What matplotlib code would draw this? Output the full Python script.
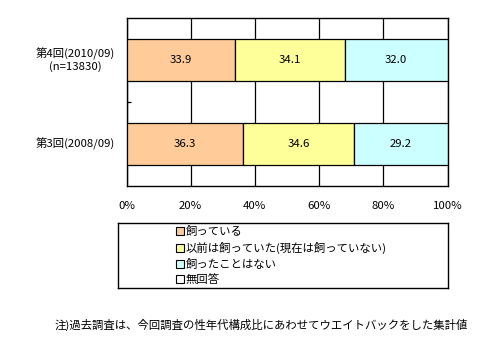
import matplotlib
matplotlib.use('Agg')
import matplotlib.pyplot as plt
from matplotlib.patches import Patch

plt.rcParams['font.family'] = ['Noto Sans CJK JP', 'DejaVu Sans']

# survey rounds (top to bottom) and answer shares in %
rounds = ['第4回(2010/09)\n(n=13830)', '第3回(2008/09)']
answers = ['飼っている', '以前は飼っていた(現在は飼っていない)', '飼ったことはない', '無回答']
owning = [33.9, 36.3]
owned_before = [34.1, 34.6]
never_owned = [32.0, 29.2]
no_answer = [0.0, 0.0]
x_ticks = [0, 20, 40, 60, 80, 100]
x_tick_labels = ['0%', '20%', '40%', '60%', '80%', '100%']
note = '注)過去調査は、今回調査の性年代構成比にあわせてウエイトバックをした集計値'

colors = ['#FFCC99', '#FFFF99', '#CCFFFF', '#FFFFFF']
FS = 8.2


def draw_bars(ax):
    series = [owning, owned_before, never_owned, no_answer]
    ypos = list(range(len(rounds)))
    left = [0.0] * len(rounds)
    for vals, col in zip(series, colors):
        bars = ax.barh(ypos, vals, left=left, height=0.49, color=col,
                       edgecolor='black', linewidth=0.9, zorder=3)
        for b, v in zip(bars, vals):
            if v > 0:
                ax.text(b.get_x() + b.get_width() / 2, b.get_y() + b.get_height() / 2,
                        f'{v:.1f}', ha='center', va='center', fontsize=FS, zorder=4)
        left = [l + v for l, v in zip(left, vals)]

    ax.set_xlim(0, 100)
    ax.set_ylim(len(rounds) - 0.5, -0.5)
    ax.set_xticks(x_ticks)
    ax.set_xticklabels(x_tick_labels, fontsize=FS)
    ax.tick_params(axis='x', length=0, pad=11)
    ax.xaxis.grid(True, color='black', linewidth=0.9)
    ax.set_axisbelow(True)

    # category labels placed by hand, tick marks only between rows
    ax.set_yticks([i + 0.5 for i in range(len(rounds) - 1)])
    ax.set_yticklabels([])
    ax.tick_params(axis='y', direction='in', length=3, width=0.9)
    for i, lab in enumerate(rounds):
        ax.text(-3.5, i, lab, ha='right', va='center', fontsize=FS,
                multialignment='center', transform=ax.transData)
    for s in ax.spines.values():
        s.set_linewidth(1.0)


def draw_legend(fig):
    lax = fig.add_axes([118 / 478, 1 - 288 / 342, 330 / 478, 65 / 342])
    lax.set_xticks([])
    lax.set_yticks([])
    for s in lax.spines.values():
        s.set_linewidth(1.0)
    handles = [Patch(facecolor=c, edgecolor='black', linewidth=0.8) for c in colors]
    lax.legend(handles, answers, loc='center left', bbox_to_anchor=(0.175, 0.5),
               frameon=False, fontsize=FS, handlelength=0.7, handleheight=0.7,
               handletextpad=0.2, labelspacing=0.42, borderaxespad=0, borderpad=0)


def main():
    fig = plt.figure(figsize=(4.78, 3.42), dpi=100)
    ax = fig.add_axes([126.5 / 478, 1 - 186 / 342, 321 / 478, 168 / 342])
    draw_bars(ax)
    draw_legend(fig)
    fig.text(55 / 478, 1 - 325 / 342, note, ha='left', va='center', fontsize=FS)
    fig.savefig('out.png', dpi=100)


if __name__ == '__main__':
    main()
